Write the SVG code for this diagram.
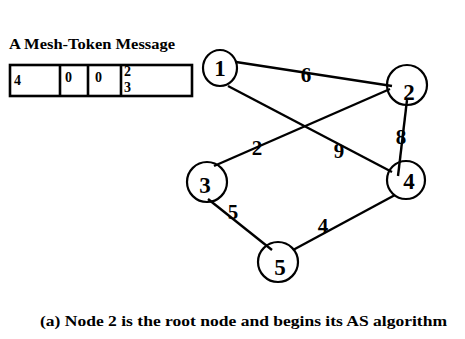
<svg xmlns="http://www.w3.org/2000/svg" width="465" height="339" viewBox="0 0 465 339">
  <style>
    .bg { fill: #ffffff; }
    .node circle, .node ellipse { fill: none; stroke: #000; stroke-width: 2.2; }
    .node text { font-family: "Liberation Serif", "Times New Roman", serif; font-weight: bold; font-size: 23px; text-anchor: middle; fill: #000; }
    .edge { stroke: #000; stroke-width: 2.4; fill: none; }
    .wt { font-family: "Liberation Serif", "Times New Roman", serif; font-weight: bold; font-size: 21px; text-anchor: middle; fill: #000; }
    .cell { fill: none; stroke: #000; stroke-width: 2.6; }
    .val { font-family: "Liberation Serif", "Times New Roman", serif; font-weight: bold; font-size: 14px; fill: #000; }
    .cap { font-family: "Liberation Serif", "Times New Roman", serif; font-weight: bold; fill: #000; }
  </style>
  <rect class="bg" x="0" y="0" width="465" height="339"/>

  <!-- token message -->
  <g id="message">
    <text class="cap" x="9" y="49" font-size="14" textLength="166" lengthAdjust="spacingAndGlyphs">A Mesh-Token Message</text>
    <rect class="cell" x="10" y="65" width="182" height="31"/>
    <line class="cell" x1="60" y1="65" x2="60" y2="96"/>
    <line class="cell" x1="88" y1="65" x2="88" y2="96"/>
    <line class="cell" x1="121" y1="65" x2="121" y2="96"/>
    <text class="val" x="14" y="85">4</text>
    <text class="val" x="65" y="82">0</text>
    <text class="val" x="95" y="82">0</text>
    <text class="val" x="124" y="76" font-size="9">2</text>
    <text class="val" x="124" y="92" font-size="10">3</text>
  </g>

  <!-- connectors -->
  <g id="edges">
    <line class="edge" x1="236" y1="62" x2="392" y2="86"/>
    <line class="edge" x1="228" y1="86" x2="392" y2="172"/>
    <line class="edge" x1="390" y1="89" x2="214" y2="166"/>
    <line class="edge" x1="407" y1="100" x2="398" y2="176"/>
    <line class="edge" x1="208" y1="199" x2="272" y2="250"/>
    <line class="edge" x1="395" y1="195" x2="293" y2="250"/>
    <text class="wt" x="306" y="82">6</text>
    <text class="wt" x="339" y="158">9</text>
    <text class="wt" x="257" y="155">2</text>
    <text class="wt" x="401" y="144" font-size="16">8</text>
    <text class="wt" x="233" y="219">5</text>
    <text class="wt" x="323" y="233">4</text>
  </g>

  <!-- nodes -->
  <g id="node1" class="node">
    <ellipse cx="220" cy="68" rx="17" ry="18"/>
    <text x="220" y="76">1</text>
  </g>
  <g id="node2" class="node">
    <circle cx="407" cy="85" r="20"/>
    <text x="409" y="100">2</text>
  </g>
  <g id="node3" class="node">
    <circle cx="207" cy="182" r="20"/>
    <text x="205" y="193">3</text>
  </g>
  <g id="node4" class="node">
    <circle cx="406" cy="180" r="19"/>
    <text x="409" y="189">4</text>
  </g>
  <g id="node5" class="node">
    <circle cx="278" cy="262" r="20"/>
    <text x="280" y="275">5</text>
  </g>

  <text class="cap" x="40" y="326" font-size="14" textLength="407" lengthAdjust="spacingAndGlyphs">(a) Node 2 is the root node and begins its AS algorithm</text>
</svg>
